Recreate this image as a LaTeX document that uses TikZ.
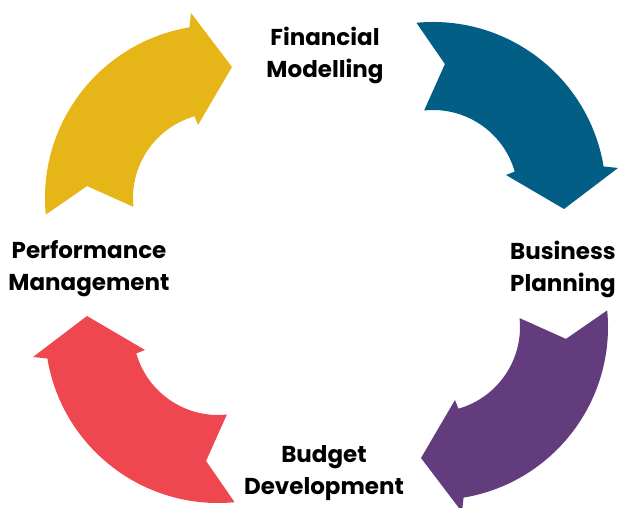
\documentclass[tikz,border=0pt]{standalone}
\usepackage{fontspec}
\setmainfont{Poppins}
\usepackage{tikz}

\definecolor{cyellow}{HTML}{E6B517}
\definecolor{cblue}{HTML}{035E86}
\definecolor{cpurple}{HTML}{633C7E}
\definecolor{cred}{HTML}{EF4750}

\begin{document}
\begin{tikzpicture}[
		x=1pt, y=1pt,
		stage/.style={font=\bfseries\fontsize{23}{32}\selectfont, align=center, inner sep=0pt},
		cyclearrow/.pic={
			\fill[pic actions] (185.5:173) arc[start angle=185.5, end angle=99.5, radius=173]
				-- (-27,185) -- (14,131) -- (-20,73) -- (106:85)
				arc[start angle=106, end angle=186, radius=85]
				-- (174.8:131.5) -- cycle;
		}]
	\useasboundingbox (0,0) rectangle (619,508);
	%% define arrows
	\pic[fill=cyellow] at (218,310) {cyclearrow};
	\pic[fill=cblue, rotate=-90] at (433,313) {cyclearrow};
	\pic[fill=cpurple, rotate=180] at (435,181) {cyclearrow};
	\pic[fill=cred, rotate=90] at (218,178) {cyclearrow};
	%% define labels
	\node (fm) at (325,453) [stage] {Financial\\Modelling};
	\node (bp) at (563,239) [stage] {Business\\Planning};
	\node (bd) at (324,35) [stage] {Budget\\Development};
	\node (pm) at (89,239) [stage] {Performance\\Management};
\end{tikzpicture}
\end{document}
